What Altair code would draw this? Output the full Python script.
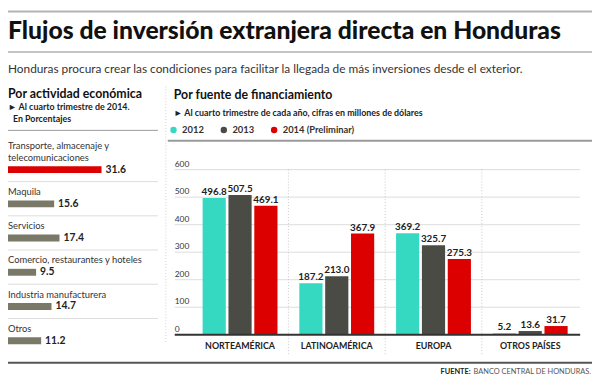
import altair as alt
import pandas as pd

# ---------------- data ----------------
TITLE = "Flujos de inversión extranjera directa en Honduras"
SUBTITLE = ("Honduras procura crear las condiciones para facilitar la llegada "
            "de más inversiones desde el exterior.")
LEFT_HEAD = "Por actividad económica"
LEFT_NOTE_1 = "► Al cuarto trimestre de 2014."
LEFT_NOTE_2 = "En Porcentajes"
RIGHT_HEAD = "Por fuente de financiamiento"
RIGHT_NOTE = "► Al cuarto trimestre de cada año, cifras en millones de dólares"
SOURCE_BOLD = "FUENTE:"
SOURCE_TEXT = "BANCO CENTRAL DE HONDURAS."

activities = ["Transporte, almacenaje y\ntelecomunicaciones", "Maquila", "Servicios",
              "Comercio, restaurantes y hoteles", "Industria manufacturera", "Otros"]
activity_pct = [31.6, 15.6, 17.4, 9.5, 14.7, 11.2]

regions = ["NORTEAMÉRICA", "LATINOAMÉRICA", "EUROPA", "OTROS PAÍSES"]
years = ["2012", "2013", "2014 (Preliminar)"]
v2012 = [496.8, 187.2, 369.2, 5.2]
v2013 = [507.5, 213.0, 325.7, 13.6]
v2014 = [469.1, 367.9, 275.3, 31.7]
y_ticks = [0, 100, 200, 300, 400, 500, 600]

# ---------------- styles ----------------
FONT = "Lato"
C_TEAL, C_GRAY, C_RED, C_OLIVE = "#35d8c0", "#4b4b46", "#dc0000", "#7a7866"
W, H = 592, 372

one = pd.DataFrame({"a": [0]})


def txt(text, x, y, size, weight="normal", color="#222", align="left", baseline="middle"):
    return alt.Chart(pd.DataFrame({"t": [text]})).mark_text(
        x=x, y=y, font=FONT, fontSize=size, fontWeight=weight, color=color,
        align=align, baseline=baseline
    ).encode(text="t:N")


def hline(x1, x2, y, color, width=1, dash=None):
    kw = dict(color=color, strokeWidth=width)
    if dash:
        kw["strokeDash"] = dash
    return alt.Chart(one).mark_rule(**kw).encode(
        x=alt.value(x1), x2=alt.value(x2), y=alt.value(y))


def vline(x, y1, y2, color, width=1, dash=None):
    kw = dict(color=color, strokeWidth=width)
    if dash:
        kw["strokeDash"] = dash
    return alt.Chart(one).mark_rule(**kw).encode(
        x=alt.value(x), y=alt.value(y1), y2=alt.value(y2))


# ---------------- header ----------------
header = [
    hline(0, W, 1, "#b4b4b4", 2),
    txt(TITLE, 0, 29, 25, weight=900, color="#111", baseline="alphabetic"),
    hline(0, W, 42, "#c4c4c4", 2),
    txt(SUBTITLE, 0, 59, 12, color="#333"),
]

# ---------------- left panel ----------------
left_df = pd.DataFrame({
    "idx": list(range(len(activities))),
    "last": [a.split("\n")[-1] for a in activities],
    "first": [a.split("\n")[0] if "\n" in a else "" for a in activities],
    "pct": activity_pct,
})
LX = alt.Scale(domain=[0, 40], range=[0, 120])
LY = alt.Scale(domain=[0, len(activities) - 1], range=[161.3, 334.7])
top_val = max(activity_pct)

lbase = alt.Chart(left_df)
left_bars = lbase.mark_rule(strokeWidth=7, strokeCap="butt").encode(
    x=alt.X("pct:Q", scale=LX, axis=None),
    x2=alt.datum(0),
    y=alt.Y("idx:Q", scale=LY, axis=None),
    color=alt.condition(f"datum.pct == {top_val}", alt.value(C_RED), alt.value(C_OLIVE)),
)
left_vals = lbase.mark_text(align="left", baseline="middle", dx=4, font=FONT,
                            fontSize=10.5, fontWeight="bold", color="#222").encode(
    x=alt.X("pct:Q", scale=LX, axis=None),
    y=alt.Y("idx:Q", scale=LY, axis=None),
    text=alt.Text("pct:Q", format=".1f"),
)
left_lab_last = lbase.mark_text(align="left", baseline="middle", dy=-12, font=FONT,
                                fontSize=9.5, color="#333").encode(
    x=alt.value(0), y=alt.Y("idx:Q", scale=LY, axis=None), text="last:N")
left_lab_first = lbase.mark_text(align="left", baseline="middle", dy=-24, font=FONT,
                                 fontSize=9.5, color="#333").encode(
    x=alt.value(0), y=alt.Y("idx:Q", scale=LY, axis=None), text="first:N")
sep_df = pd.DataFrame({"s": [i + 0.35 for i in range(len(activities) - 1)]})
left_seps = alt.Chart(sep_df).mark_rule(color="#dddddd", strokeWidth=1).encode(
    x=alt.value(0), x2=alt.value(152), y=alt.Y("s:Q", scale=LY, axis=None))

left = [
    txt(LEFT_HEAD, 0, 85, 12.5, weight="bold", color="#111"),
    txt(LEFT_NOTE_1, 0, 98, 9, weight="bold", color="#222"),
    txt(LEFT_NOTE_2, 5, 110, 9, weight="bold", color="#222"),
    hline(0, 152, 121.5, "#999999", 1),
    left_seps, left_bars, left_vals, left_lab_last, left_lab_first,
    vline(160, 77, 337, "#cfcfcf", 1, [1, 2]),
]

# ---------------- right panel ----------------
rows = []
for i, r in enumerate(regions):
    for y, vals in zip(years, [v2012, v2013, v2014]):
        rows.append({"region": r, "year": y, "value": vals[i]})
right_df = pd.DataFrame(rows)

X0, X1 = 186.2, 578.4
RX = alt.X("region:N", sort=regions, axis=None,
           scale=alt.Scale(domain=regions, range=[X0, X1], paddingInner=0.226, paddingOuter=0.113))
RXO = alt.XOffset("year:N", sort=years,
                  scale=alt.Scale(domain=years, paddingInner=0.103, paddingOuter=0))
RYS = alt.Scale(domain=[0, 600], range=[328.7, 161.3])
RY = alt.Y("value:Q", scale=RYS, axis=None)

rbase = alt.Chart(right_df)
bars = rbase.mark_bar().encode(
    x=RX, xOffset=RXO, y=RY,
    color=alt.Color("year:N", sort=years,
                    scale=alt.Scale(domain=years, range=[C_TEAL, C_GRAY, C_RED]),
                    legend=alt.Legend(orient="none", legendX=163, legendY=116,
                                      direction="horizontal", title=None,
                                      symbolType="circle", symbolSize=42,
                                      symbolStrokeWidth=0, labelFont=FONT,
                                      labelFontSize=9.5, labelFontWeight="bold",
                                      labelColor="#333", labelOffset=4,
                                      columnPadding=15, padding=0)),
)
vals = rbase.mark_text(baseline="bottom", dy=-1, font=FONT, fontSize=10,
                       fontWeight="bold", color="#222").encode(
    x=RX, xOffset=RXO, y=RY, text=alt.Text("value:Q", format=".1f"))
right_bars = alt.layer(bars, vals)

cat_df = pd.DataFrame({"region": regions})
cats = alt.Chart(cat_df).mark_text(font=FONT, fontSize=9, fontWeight="bold",
                                   color="#222", baseline="middle").encode(
    x=RX, y=alt.value(340.5), text="region:N")

tick_df = pd.DataFrame({"value": y_ticks})
grid = alt.Chart(tick_df).transform_filter("datum.value > 0").mark_rule(
    color="#dcdcdc", strokeWidth=1).encode(
    x=alt.value(169), x2=alt.value(580), y=RY)
zero = alt.Chart(tick_df).transform_filter("datum.value == 0").mark_rule(
    color="#333333", strokeWidth=2).encode(
    x=alt.value(169), x2=alt.value(580), y=RY)
ylabels = alt.Chart(tick_df).mark_text(align="left", baseline="alphabetic", dy=-3,
                                       font=FONT, fontSize=8.5, color="#333").encode(
    x=alt.value(169), y=RY, text="value:Q")

bnd_df = pd.DataFrame({"b": list(range(1, len(regions)))})
vseps = alt.Chart(bnd_df).mark_rule(color="#c8c8c8", strokeWidth=1, strokeDash=[1, 2]).encode(
    x=alt.X("b:Q", scale=alt.Scale(domain=[0, len(regions)], range=[X0, X1]), axis=None),
    y=alt.value(161.3), y2=alt.value(348.7))

right = [
    txt(RIGHT_HEAD, 168, 86, 12.5, weight="bold", color="#111"),
    txt(RIGHT_NOTE, 168, 104, 9, weight="bold", color="#222"),
    hline(162, W, 132, "#9a9a9a", 2),
    grid, vseps, ylabels, right_bars, zero, cats,
]

# ---------------- footer ----------------
footer = [
    hline(0, W, 357, "#555555", 2),
    txt(SOURCE_BOLD, 469, 366, 7.5, weight="bold", color="#222", align="right"),
    txt(SOURCE_TEXT, 472, 366, 7.5, color="#555", align="left"),
]

chart = alt.layer(*(header + left + right + footer)).resolve_scale(
    x="independent", y="independent", color="independent"
).properties(
    width=W, height=H, padding=0, background="white",
    autosize=alt.AutoSizeParams(type="none"),
).configure_view(stroke=None)

chart.save("out.html", embed_options={"renderer": "svg", "actions": False})
